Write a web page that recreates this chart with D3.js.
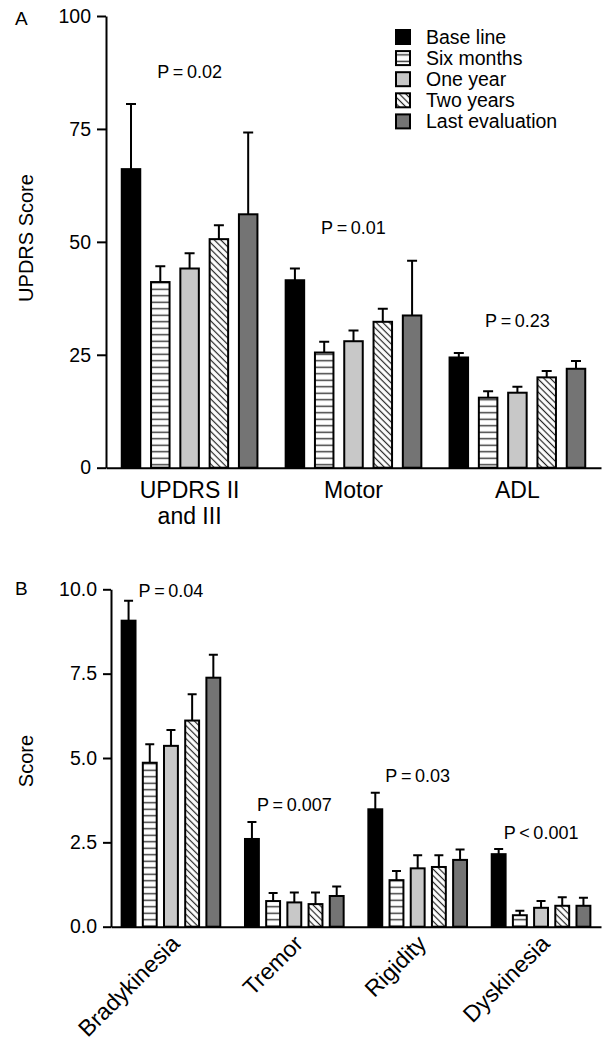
<!DOCTYPE html>
<html>
<head>
<meta charset="utf-8">
<script src="https://cdn.jsdelivr.net/npm/d3@7"></script>
<style>
  body { margin: 0; background: #fff; }
  svg { display: block; font-family: "Liberation Sans", Arial, Helvetica, sans-serif; }
  .axis path, .axis line { stroke: #000; stroke-width: 2; }
  .axis text { font-family: "Liberation Sans", Arial, Helvetica, sans-serif; font-size: 19.5px; fill: #000; }
</style>
</head>
<body>
<div id="chart"></div>
<script>
var series = ["Base line", "Six months", "One year", "Two years", "Last evaluation"];

// panel A
var catsA = ["UPDRS II\nand III", "Motor", "ADL"];
var meansA = [
  [66.1, 41.1, 44.1, 50.6, 56.1],
  [41.5, 25.5, 28.0, 32.3, 33.7],
  [24.4, 15.5, 16.6, 20.0, 21.9]
];
var errA = [
  [14.4, 3.5, 3.4, 3.1, 18.1],
  [2.6, 2.4, 2.4, 2.9, 12.1],
  [1.0, 1.4, 1.3, 1.4, 1.7]
];
var ticksA = [0, 25, 50, 75, 100];
var pTextA = ["P\u2009=\u20090.02", "P\u2009=\u20090.01", "P\u2009=\u20090.23"];
var pValA = [86.3, 51.7, 31.2];

// panel B
var catsB = ["Bradykinesia", "Tremor", "Rigidity", "Dyskinesia"];
var meansB = [
  [9.07, 4.86, 5.36, 6.11, 7.38],
  [2.60, 0.76, 0.72, 0.67, 0.91],
  [3.48, 1.38, 1.73, 1.77, 1.98],
  [2.15, 0.34, 0.56, 0.62, 0.62]
];
var errB = [
  [0.59, 0.55, 0.47, 0.78, 0.68],
  [0.50, 0.24, 0.29, 0.34, 0.28],
  [0.49, 0.27, 0.39, 0.35, 0.31],
  [0.15, 0.13, 0.20, 0.25, 0.24]
];
var ticksB = [0, 2.5, 5, 7.5, 10];
var pTextB = ["P\u2009=\u20090.04", "P\u2009=\u20090.007", "P\u2009=\u20090.03", "P\u2009<\u20090.001"];
var pValB = [9.78, 3.44, 4.28, 2.6];

var svg = d3.select("#chart").append("svg")
    .attr("width", 602)
    .attr("height", 1044);

var defs = svg.append("defs");

var hl = defs.append("pattern")
    .attr("id", "hlines")
    .attr("patternUnits", "userSpaceOnUse")
    .attr("width", 10)
    .attr("height", 6.5);
hl.append("rect").attr("width", 10).attr("height", 6.5).attr("fill", "#fff");
hl.append("line")
    .attr("x1", 0).attr("x2", 10)
    .attr("y1", 3.25).attr("y2", 3.25)
    .attr("stroke", "#333")
    .attr("stroke-width", 1.4);

var dg = defs.append("pattern")
    .attr("id", "diag")
    .attr("patternUnits", "userSpaceOnUse")
    .attr("width", 4.6)
    .attr("height", 10)
    .attr("patternTransform", "rotate(-45)");
dg.append("rect").attr("width", 4.6).attr("height", 10).attr("fill", "#fff");
dg.append("line")
    .attr("x1", 2.3).attr("x2", 2.3)
    .attr("y1", 0).attr("y2", 10)
    .attr("stroke", "#222")
    .attr("stroke-width", 1.2);

var fills = ["#000", "url(#hlines)", "#c8c8c8", "url(#diag)", "#747474"];

function drawPanel(opt){
  var g = svg.append("g");
  var y = d3.scaleLinear().domain(opt.domain).range([opt.y0, opt.y1]);
  var x0 = d3.scaleBand()
      .domain(opt.cats)
      .range([opt.axisX, 601])
      .paddingInner(opt.padInner)
      .paddingOuter(opt.padOuter);
  var x1 = d3.scaleBand()
      .domain(series)
      .range([0, x0.bandwidth()])
      .paddingInner(opt.barPad);

  // y axis
  g.append("g")
      .attr("class", "axis")
      .attr("transform", "translate(" + opt.axisX + ",0)")
      .call(d3.axisLeft(y).tickValues(opt.ticks).tickFormat(opt.fmt)
        .tickSize(opt.tickLen).tickSizeOuter(0).tickPadding(6));

  // baseline
  g.append("g")
      .attr("class", "axis")
      .attr("transform", "translate(0," + y(0) + ")")
      .call(d3.axisBottom(x0).tickSize(0).tickSizeOuter(0).tickFormat(""));

  var groups = g.selectAll(".grp")
      .data(opt.cats)
    .enter().append("g")
      .attr("class", "grp")
      .attr("transform", function(d){ return "translate(" + x0(d) + ",0)"; });

  groups.each(function(cat, ci){
    var gg = d3.select(this);
    var rows = series.map(function(s, si){
      return {s: s, i: si, v: opt.means[ci][si], e: opt.err[ci][si]};
    });

    // error bars (upper only)
    gg.selectAll(".err")
        .data(rows)
      .enter().append("path")
        .attr("fill", "none")
        .attr("stroke", "#000")
        .attr("stroke-width", 2)
        .attr("d", function(d){
          var cx = x1(d.s) + x1.bandwidth() / 2, top = y(d.v + d.e);
          return "M" + cx + "," + y(d.v) + "V" + top +
            "M" + (cx - opt.cap / 2) + "," + top + "H" + (cx + opt.cap / 2);
        });

    gg.selectAll(".bar")
        .data(rows)
      .enter().append("rect")
        .attr("x", function(d){ return x1(d.s) + 1; })
        .attr("width", x1.bandwidth() - 2)
        .attr("y", function(d){ return y(d.v); })
        .attr("height", function(d){ return y(0) - y(d.v); })
        .attr("fill", function(d){ return fills[d.i]; })
        .attr("stroke", "#000")
        .attr("stroke-width", 2);
  });

  // p values
  g.selectAll(".pval")
      .data(opt.cats)
    .enter().append("text")
      .attr("x", function(d){ return x0(d) + x0.bandwidth() / 2; })
      .attr("y", function(d, i){ return y(opt.pVal[i]); })
      .attr("text-anchor", "middle")
      .style("font-size", "18px")
      .text(function(d, i){ return opt.pText[i]; });

  // y title
  g.append("text")
      .attr("transform", "translate(33," + opt.titleY + ") rotate(-90)")
      .attr("text-anchor", "middle")
      .style("font-size", "20px")
      .text(opt.title);

  // panel letter
  g.append("text")
      .attr("x", 15)
      .attr("y", opt.letterY)
      .style("font-size", "19px")
      .text(opt.letter);

  return {g: g, x0: x0, y: y};
}

var A = drawPanel({
  cats: catsA, means: meansA, err: errA, ticks: ticksA, fmt: d3.format("d"),
  domain: [0, 100], y0: 467.7, y1: 16, axisX: 106, tickLen: 9,
  padInner: 0.16, padOuter: 0.09, barPad: 0.3, cap: 10,
  pText: pTextA, pVal: pValA, title: "UPDRS Score", titleY: 238,
  letter: "A", letterY: 25
});

// panel A category labels, two lines for the first
A.g.selectAll(".cat")
    .data(catsA)
  .enter().append("text")
    .attr("text-anchor", "middle")
    .style("font-size", "23px")
    .each(function(d){
      var t = d3.select(this), x = A.x0(d) + A.x0.bandwidth() / 2;
      d.split("\n").forEach(function(line, li){
        t.append("tspan").attr("x", x).attr("y", 498 + li * 26).text(line);
      });
    });

// legend
var leg_y = d3.scalePoint().domain(series).range([37, 121.4]);
var legend = svg.selectAll(".legend")
    .data(series)
  .enter().append("g")
    .attr("class", "legend")
    .attr("transform", function(d){ return "translate(396," + leg_y(d) + ")"; });

legend.append("rect")
    .attr("x", 0)
    .attr("y", -7)
    .attr("width", 14)
    .attr("height", 14)
    .attr("fill", function(d, i){ return fills[i]; })
    .attr("stroke", "#000")
    .attr("stroke-width", 2);

legend.append("text")
    .attr("x", 30)
    .attr("dy", "0.36em")
    .style("font-size", "19.5px")
    .text(function(d){ return d; });

var B = drawPanel({
  cats: catsB, means: meansB, err: errB, ticks: ticksB, fmt: d3.format(".1f"),
  domain: [0, 10], y0: 926.7, y1: 589.3, axisX: 111, tickLen: 8,
  padInner: 0.184, padOuter: 0.078, barPad: 0.25, cap: 9,
  pText: pTextB, pVal: pValB, title: "Score", titleY: 761,
  letter: "B", letterY: 595
});

// panel B category labels, slanted
B.g.selectAll(".cat")
    .data(catsB)
  .enter().append("text")
    .attr("text-anchor", "end")
    .style("font-size", "23px")
    .attr("transform", function(d){
      return "translate(" + (B.x0(d) + B.x0.bandwidth() / 2 + 10) + ",945) rotate(-45)";
    })
    .text(function(d){ return d; });
</script>
</body>
</html>
